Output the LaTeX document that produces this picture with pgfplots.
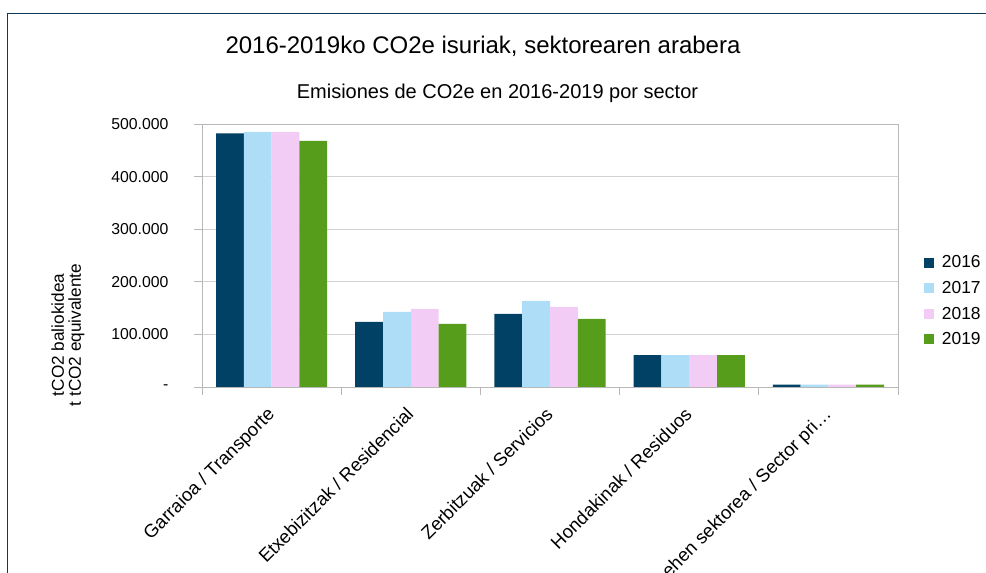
\documentclass[border=0pt]{standalone}
\usepackage{fontspec}
\setmainfont{Liberation Sans}
\usepackage{pgfplots}
\pgfplotsset{compat=1.18}
\definecolor{c16}{HTML}{004165}
\definecolor{c17}{HTML}{ADDDF7}
\definecolor{c18}{HTML}{F2CCF5}
\definecolor{c19}{HTML}{579D1C}
\definecolor{frame}{HTML}{0F3A5A}
\definecolor{gridc}{HTML}{D2D2D2}
\definecolor{axc}{HTML}{B8B8B8}
\newcommand{\fs}[1]{\fontsize{#1}{#1}\selectfont}
\begin{document}
\begin{tikzpicture}[x=1pt,y=1pt]
\useasboundingbox (0,0) rectangle (986,573);
\draw[frame,line width=1.4pt] (7.3,-5) -- (7.3,559.5) -- (990,559.5);
\node[anchor=base] at (483,519) {\fs{24}2016-2019ko CO2e isuriak, sektorearen arabera};
\node[anchor=base] at (497.5,474) {\fs{20}Emisiones de CO2e en 2016-2019 por sector};
\node[rotate=90,align=center,font={\fontsize{17.2}{17}\selectfont}] at (68,238) {tCO2 baliokidea\\t tCO2 equivalente};
\begin{axis}[
  at={(202pt,186pt)}, anchor=south west,
  scale only axis, width=696pt, height=263pt,
  ybar=0pt, bar width=27.8pt,
  xmin=-0.5, xmax=4.5, ymin=0, ymax=500000,
  axis line style={axc},
  tick align=outside,
  major tick length=8pt,
  tick style={axc, line width=0.8pt},
  ytick={0,100000,200000,300000,400000,500000},
  yticklabels={-,100.000,200.000,300.000,400.000,500.000},
  yticklabel style={font=\fs{15.8}, anchor=east, xshift=-22pt},
  ymajorgrids, grid style={gridc, line width=0.9pt},
  ytick pos=left,
  xtick={-0.5,0.5,1.5,2.5,3.5,4.5},
  xticklabels={,,,,,},
  xtick pos=bottom,
  extra x ticks={0,1,2,3,4},
  extra x tick labels={Garraioa / Transporte, Etxebizitzak / Residencial, Zerbitzuak / Servicios, Hondakinak / Residuos, Lehen sektorea / Sector pri…},
  extra x tick style={major tick length=0pt, tick style={draw=none},
    xticklabel style={font=\fs{18.5}, rotate=45, anchor=north east, xshift=-14pt, yshift=-6pt}},
  scaled y ticks=false,
  legend style={at={(1.037,0.327)}, anchor=west, draw=none, fill=none,
    font=\fs{17.4}, row sep=8pt, inner sep=0pt,
    /tikz/every even column/.append style={column sep=0pt}},
  legend cell align=left,
  legend image code/.code={\fill[#1] (0pt,-5pt) rectangle (10pt,5pt);\path (16pt,0pt);},
]
\addplot[fill=c16, draw=none] coordinates {(0,482300) (1,123600) (2,138800) (3,60800) (4,4400)};
\addplot[fill=c17, draw=none] coordinates {(0,484800) (1,142600) (2,163500) (3,60800) (4,4400)};
\addplot[fill=c18, draw=none] coordinates {(0,485000) (1,148300) (2,152100) (3,60800) (4,4400)};
\addplot[fill=c19, draw=none] coordinates {(0,467700) (1,119800) (2,129300) (3,60800) (4,4400)};
\legend{2016,2017,2018,2019}
\end{axis}
\end{tikzpicture}
\end{document}
